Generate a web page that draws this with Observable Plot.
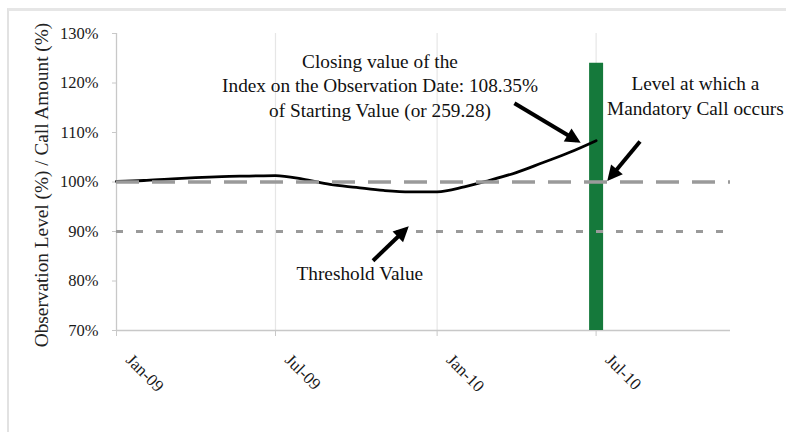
<!DOCTYPE html>
<html>
<head>
<meta charset="utf-8">
<script src="https://cdn.jsdelivr.net/npm/d3@7"></script>
<script src="https://cdn.jsdelivr.net/npm/@observablehq/plot@0.6"></script>
<style>
  html, body { margin: 0; padding: 0; background: #fff; }
  #wrap { position: relative; width: 786px; height: 432px; overflow: hidden; }
  #frame { position: absolute; left: 7px; top: 8px; width: 800px; height: 450px;
           border-left: 2px solid #e2e2e2; border-top: 3px solid #e6e6e6; pointer-events: none; }
  #chart { position: absolute; left: 0; top: 0; }
</style>
</head>
<body>
<div id="wrap"><div id="chart"></div><div id="frame"></div></div>
<script>
// ---- data ----
const xDomain = ["2009-01-01", "2010-12-01"];
const yTicks = [70, 80, 90, 100, 110, 120, 130];
const tickDates = ["2009-01-01", "2009-07-01", "2010-01-01", "2010-07-01"];
const tickLabels = ["Jan-09", "Jul-09", "Jan-10", "Jul-10"];

const lineDates = ["2009-01-01","2009-02-01","2009-03-01","2009-04-01","2009-05-01","2009-06-01",
  "2009-07-01","2009-08-01","2009-09-01","2009-10-01","2009-11-01","2009-12-01",
  "2010-01-01","2010-02-01","2010-03-01","2010-04-01","2010-05-01","2010-06-01","2010-07-01"];
const lineValues = [100.1,100.3,100.6,100.9,101.1,101.2,101.3,100.6,99.5,98.9,98.3,98.0,
  98.0,99.0,100.3,101.9,103.9,106.0,108.35];

const callDate = "2010-07-01";
const callAmount = 124;
const startingLevel = 100;
const thresholdLevel = 90;

const yTitle = "Observation Level (%) / Call Amount (%)";

const noteTexts = [
  "Closing value of the\nIndex on the Observation Date: 108.35%\nof Starting Value (or 259.28)",
  "Level at which a\nMandatory Call occurs",
  "Threshold Value"
];
const noteDates = ["2009-10-28", "2010-10-22", "2009-10-05"];
const noteValues = [119.7, 117.6, 81.7];

const arrowFromDates = ["2010-03-30", "2010-08-20", "2009-10-20"];
const arrowFromValues = [115.9, 108.2, 84.1];
const arrowToDates = ["2010-06-09", "2010-07-17", "2009-11-26"];
const arrowToValues = [108.4, 100.9, 90.4];

// ---- build ----
const P = s => new Date(s + "T00:00:00Z");
const series = lineDates.map((d, i) => ({date: P(d), value: lineValues[i]}));
const ticks = tickDates.map((d, i) => ({date: P(d), label: tickLabels[i]}));
const notes = noteTexts.map((t, i) => ({text: t, date: P(noteDates[i]), value: noteValues[i]}));
const arrows = arrowFromDates.map((d, i) => ({
  x1: P(d), y1: arrowFromValues[i], x2: P(arrowToDates[i]), y2: arrowToValues[i]
}));

function filledHead(color) {
  const m = d3.create("svg:marker")
    .attr("viewBox", "-10 -5 10 10")
    .attr("refX", -3).attr("refY", 0)
    .attr("markerWidth", 4.1).attr("markerHeight", 3.8)
    .attr("orient", "auto")
    .attr("overflow", "visible")
    .attr("fill", color).attr("stroke", "none");
  m.append("path").attr("d", "M-10,-5L0,0L-10,5Z");
  return m.node();
}

const chart = Plot.plot({
  width: 786,
  height: 432,
  marginLeft: 116,
  marginRight: 56,
  marginTop: 33,
  marginBottom: 102,
  style: {fontFamily: "'Liberation Serif', 'Times New Roman', serif", fontSize: "16px", color: "#222", background: "transparent"},
  x: {type: "utc", domain: xDomain.map(P)},
  y: {type: "linear", domain: [70, 130]},
  marks: [
    Plot.ruleX(ticks.slice(1), {x: "date", stroke: "#e6e6e6", strokeWidth: 1.2}),
    Plot.ruleX([P(xDomain[0])], {stroke: "#c8c8c8", strokeWidth: 1.3}),
    Plot.ruleY([70], {stroke: "#c8c8c8", strokeWidth: 1.3}),
    Plot.axisY({ticks: yTicks, tickFormat: d => d + "%", tickSize: 4, tickPadding: 14, stroke: "#c8c8c8", label: null, fill: "#1a1a1a", fontSize: 16.5}),
    Plot.axisX({ticks: tickDates.map(P), tickFormat: () => "", tickSize: 6, stroke: "#c8c8c8", label: null}),
    Plot.text(ticks, {x: "date", y: 70, text: "label", rotate: 45, textAnchor: "start", lineAnchor: "top", dx: 17, dy: 22, fill: "#1a1a1a", fontSize: 17}),
    Plot.text([yTitle], {frameAnchor: "left", textAnchor: "middle", dx: -75, dy: 3, rotate: -90, fontSize: 19.3, fill: "#222"}),
    Plot.ruleX([{date: P(callDate), value: callAmount}], {x: "date", y1: 70, y2: "value", stroke: "#15793b", strokeWidth: 14}),
    Plot.line(series, {x: "date", y: "value", stroke: "#000", strokeWidth: 2.8, curve: "monotone-x"}),
    Plot.ruleY([startingLevel], {stroke: "#9a9a9a", strokeWidth: 3.5, strokeDasharray: "23,13"}),
    Plot.ruleY([thresholdLevel], {stroke: "#9a9a9a", strokeWidth: 3, strokeDasharray: "7,13"}),
    Plot.link(arrows, {x1: "x1", y1: "y1", x2: "x2", y2: "y2", stroke: "#000", strokeWidth: 4, markerEnd: filledHead}),
    Plot.text(notes, {x: "date", y: "value", text: "text", fontSize: 19.3, lineHeight: 1.27, fill: "#111", textAnchor: "middle"})
  ]
});
document.getElementById("chart").appendChild(chart);
</script>
</body>
</html>
